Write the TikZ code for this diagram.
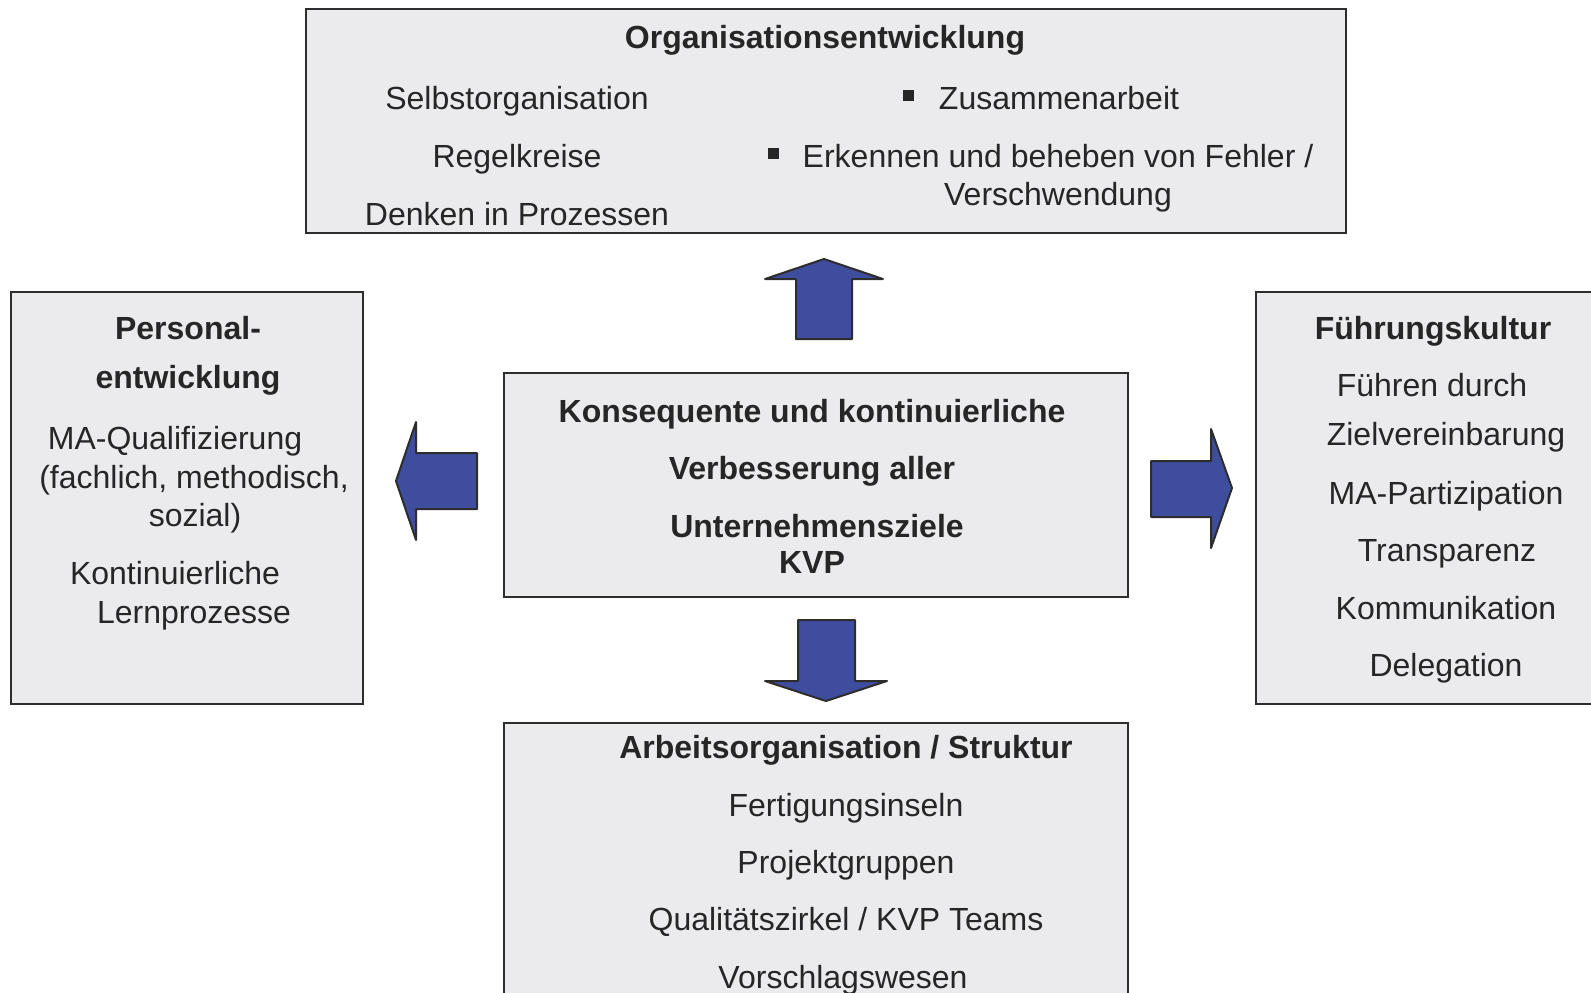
\documentclass[tikz,border=0pt]{standalone}
\usepackage{fontspec}
\setmainfont{Liberation Sans}
\usetikzlibrary{positioning}
\definecolor{boxgray}{RGB}{235,235,237}
\definecolor{arrowblue}{RGB}{63,77,158}
\definecolor{linegray}{RGB}{45,45,45}

\begin{document}
\begin{tikzpicture}[
    x = 0.5pt, y = -0.5pt,
    box/.style = {
      draw = linegray, fill = boxgray, line width = 1pt
    },
    txt/.style = {
      anchor = base, inner sep = 0pt, text = black!85,
      font = \fontsize{16}{19}\selectfont
    },
    head/.style = {
      txt, font = \fontsize{16}{19}\selectfont\bfseries
    },
    bullet/.style = {
      fill = black!85, inner sep = 0pt, minimum size = 5.5pt
    },
    bigarrow/.style = {
      draw = linegray, fill = arrowblue, line width = 1pt, line join = round
    },
    ]
\useasboundingbox (0,0) rectangle (1591,992);
\clip (0,0) rectangle (1591,992);

% boxes
\draw  [box]  (306,9)  rectangle  (1346,233);
\draw  [box]  (11,292)  rectangle  (363,704);
\draw  [box]  (504,373)  rectangle  (1128,597);
\draw  [box]  (1256,292)  rectangle  (1620,704);
\draw  [box]  (504,723)  rectangle  (1128,1020);

% block arrows
\draw  [bigarrow]  (796,339) -- (796,279) -- (765,279) -- (824,259) -- (883,279) -- (852,279) -- (852,339) -- cycle;
\draw  [bigarrow]  (477,453) -- (416,453) -- (416,422) -- (396,481) -- (416,540) -- (416,509) -- (477,509) -- cycle;
\draw  [bigarrow]  (1151,461) -- (1211,461) -- (1211,429) -- (1232,488) -- (1211,548) -- (1211,517) -- (1151,517) -- cycle;
\draw  [bigarrow]  (798,620) -- (855,620) -- (855,681) -- (887,681) -- (826,701) -- (765,681) -- (798,681) -- cycle;

% top box
\node  [head]  (org_head)  at  (825,48)  {Organisationsentwicklung};
\node  [txt]  (org_self)  at  (517,109)  {Selbstorganisation};
\node  [txt]  (org_regel)  at  (517,167)  {Regelkreise};
\node  [txt]  (org_denken)  at  (517,225)  {Denken in Prozessen};
\node  [txt]  (org_zus)  at  (1059,109)  {Zusammenarbeit};
\node  [txt]  (org_fehler)  at  (1058,167)  {Erkennen und beheben von Fehler /};
\node  [txt]  (org_versch)  at  (1058,205)  {Verschwendung};
\node  [bullet]  (bul_1)  at  (908,95)  {};
\node  [bullet]  (bul_2)  at  (773,153)  {};

% left box
\node  [head]  (pe_head1)  at  (188,339)  {Personal-};
\node  [head]  (pe_head2)  at  (188,388)  {entwicklung};
\node  [txt]  (pe_ma)  at  (175,449)  {MA-Qualifizierung};
\node  [txt]  (pe_fach)  at  (194,488)  {(fachlich, methodisch,};
\node  [txt]  (pe_sozial)  at  (195,526)  {sozial)};
\node  [txt]  (pe_kont)  at  (175,584)  {Kontinuierliche};
\node  [txt]  (pe_lern)  at  (194,623)  {Lernprozesse};

% centre box
\node  [head]  (kvp_1)  at  (812,422)  {Konsequente und kontinuierliche};
\node  [head]  (kvp_2)  at  (812,479)  {Verbesserung aller};
\node  [head]  (kvp_3)  at  (817,537)  {Unternehmensziele};
\node  [head]  (kvp_4)  at  (812,573)  {KVP};

% right box
\node  [head]  (fk_head)  at  (1433,339)  {Führungskultur};
\node  [txt]  (fk_fuehren)  at  (1432,396)  {Führen durch};
\node  [txt]  (fk_ziel)  at  (1446,445)  {Zielvereinbarung};
\node  [txt]  (fk_part)  at  (1446,504)  {MA-Partizipation};
\node  [txt]  (fk_trans)  at  (1447,561)  {Transparenz};
\node  [txt]  (fk_komm)  at  (1446,619)  {Kommunikation};
\node  [txt]  (fk_deleg)  at  (1446,676)  {Delegation};

% bottom box
\node  [head]  (ao_head)  at  (846,758)  {Arbeitsorganisation / Struktur};
\node  [txt]  (ao_fert)  at  (846,816)  {Fertigungsinseln};
\node  [txt]  (ao_proj)  at  (846,873)  {Projektgruppen};
\node  [txt]  (ao_qual)  at  (846,930)  {Qualitätszirkel / KVP Teams};
\node  [txt]  (ao_vor)  at  (843,988)  {Vorschlagswesen};
\end{tikzpicture}
\end{document}
